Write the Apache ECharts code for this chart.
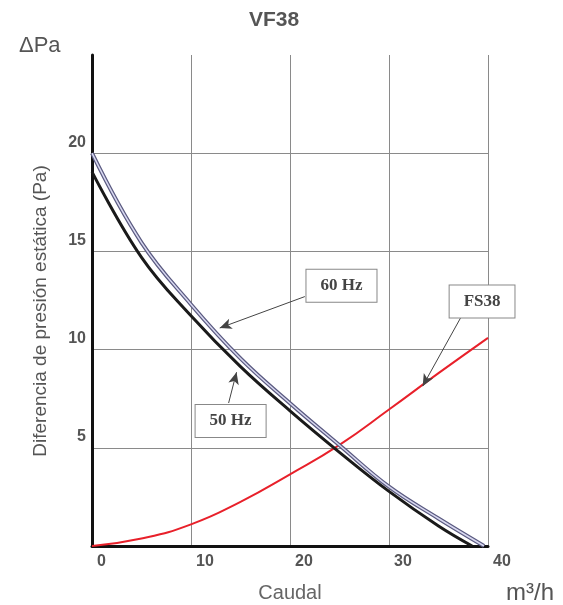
<!DOCTYPE html>
<html><head><meta charset="utf-8">
<script src="https://cdn.jsdelivr.net/npm/echarts@6/dist/echarts.min.js"></script>
<style>html,body{margin:0;padding:0;background:#fff}#c{width:563px;height:605px}</style>
</head><body><div id="c"></div>
<script>
var xTicks = [0, 10, 20, 30, 40];
var yTicks = [5, 10, 15, 20];
var hz50 = [[0,19.05],[5,14.7],[10,11.72],[15,9.13],[20,6.88],[25,4.77],[30,2.78],[35,1.02],[38.4,0]];
var hz60 = [[0,20.0],[5,15.45],[10,12.3],[15,9.55],[20,7.27],[25,5.13],[30,3.02],[35,1.4],[39.6,0]];
var fs38 = [[0,0],[5,0.38],[10,1.1],[15,2.25],[20,3.65],[25,5.15],[30,6.95],[35,8.8],[40,10.6]];
var labels = [
  {text:'60 Hz', box:[25.2,13.25], from:[21.5,12.7], to:[12.9,11.1]},
  {text:'50 Hz', box:[14.0,6.36], from:[13.8,7.28], to:[14.6,8.85]},
  {text:'FS38', box:[39.4,12.45], from:[37.5,11.86], to:[33.4,8.14]}
];
var chart = echarts.init(document.getElementById('c'));
var txt = '#555';
chart.setOption({
  animation:false,
  title:[
    {text:'VF38', left:269, top:5, textAlign:'center', textStyle:{fontFamily:'Liberation Sans',fontSize:21,fontWeight:'bold',color:txt}},
    {text:'ΔPa', left:14, top:30, textStyle:{fontFamily:'Liberation Sans',fontSize:22,fontWeight:'normal',color:txt}},
    {text:'Caudal', left:285, top:578, textAlign:'center', textStyle:{fontFamily:'Liberation Sans',fontSize:20,fontWeight:'normal',color:'#666'}},
    {text:'m³/h', left:525, top:576, textAlign:'center', textStyle:{fontFamily:'Liberation Sans',fontSize:24,fontWeight:'normal',color:txt}}
  ],
  graphic:[{type:'text', x:41, y:311, rotation:Math.PI/2,
    style:{text:'Diferencia de presión estática (Pa)', align:'center', verticalAlign:'middle',
      fontFamily:'Liberation Sans', fontSize:19, fill:txt}}],
  grid:{left:92, right:75, top:55, bottom:59},
  xAxis:{type:'value', min:0, max:40, interval:10,
    axisLine:{lineStyle:{color:'#111',width:3}}, axisTick:{show:false},
    axisLabel:{align:'left', padding:[0,0,0,5], margin:8, fontFamily:'Liberation Sans', fontSize:16, fontWeight:'bold', color:txt,
      formatter:function(v){return xTicks.indexOf(v)>=0?String(v):'';}},
    splitLine:{show:true, showMaxLine:true, lineStyle:{color:'#8a8a8a',width:1}}
  },
  yAxis:{type:'value', min:0, max:25, interval:5,
    axisLine:{show:true, lineStyle:{color:'#111',width:3}}, axisTick:{show:false},
    axisLabel:{verticalAlign:'bottom', padding:[0,0,3,0], margin:6, fontFamily:'Liberation Sans', fontSize:16, fontWeight:'bold', color:txt,
      formatter:function(v){return yTicks.indexOf(v)>=0?String(v):'';}},
    splitLine:{show:true, showMaxLine:false, lineStyle:{color:'#8a8a8a',width:1}}
  },
  series:[
    {type:'line', data:fs38, smooth:0.5, symbol:'none', lineStyle:{color:'#e8202a',width:2}, z:3},
    {type:'line', data:hz60, smooth:0.4, symbol:'none', lineStyle:{color:'#5a5a80',width:4}, z:4},
    {type:'line', data:hz60, smooth:0.4, symbol:'none', lineStyle:{color:'#d8d8f0',width:1.5}, z:5},
    {type:'line', data:hz50, smooth:0.4, symbol:'none', lineStyle:{color:'#1a1a1a',width:3}, z:6,
      markLine:{silent:true, symbol:['none','arrow'], symbolSize:[8,12], animation:false,
        lineStyle:{color:'#444',width:1,type:'solid'}, label:{show:false},
        data:labels.map(function(l){return [{coord:l.from},{coord:l.to}];})},
      markPoint:{silent:true, symbol:'rect', symbolSize:1, itemStyle:{color:'transparent'},
        data:labels.map(function(l){return {coord:l.box, value:l.text,
          label:{show:true, position:'inside', formatter:l.text, fontFamily:'Liberation Serif', fontWeight:'bold', fontSize:17, color:'#444',
            backgroundColor:'#fff', borderColor:'#888', borderWidth:1, padding:[8,14,7,14]}};})}
    }
  ]
});
</script></body></html>
